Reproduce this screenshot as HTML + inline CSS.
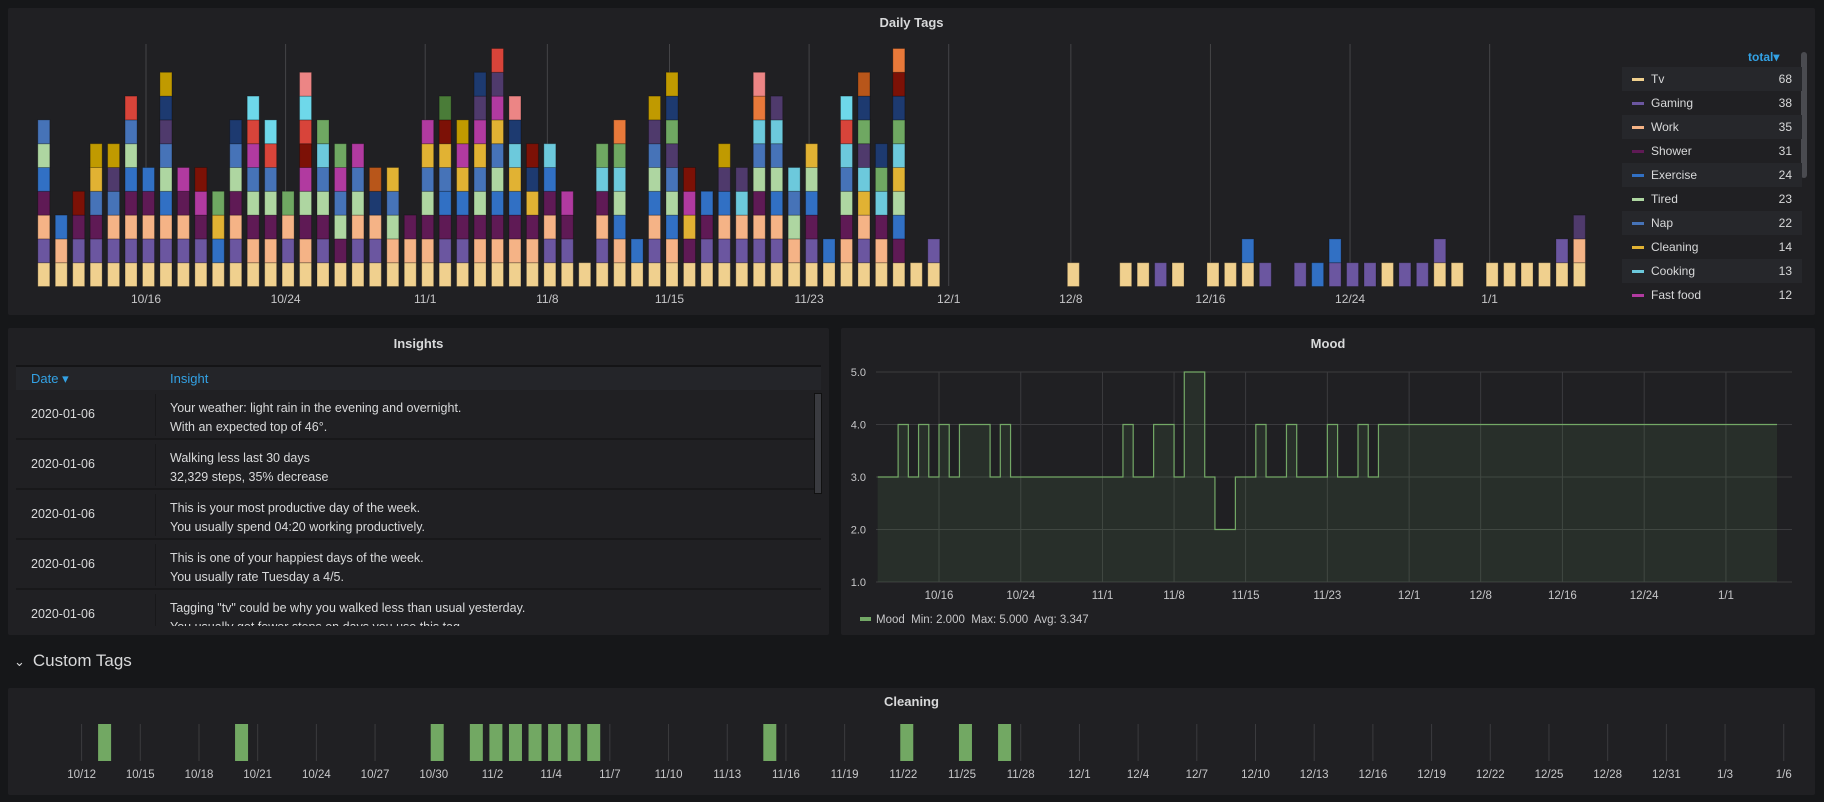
<!DOCTYPE html>
<html><head><meta charset="utf-8">
<style>
body{margin:0;width:1824px;height:802px;background:#161719;font-family:"Liberation Sans",sans-serif;overflow:hidden;position:relative;color:#d8d9da}
.panel{position:absolute;background:#202023;border-radius:2px}
.ptitle{position:absolute;left:0;right:0;text-align:center;font-size:13px;font-weight:bold;color:#d8d9da}
#charts{position:absolute;left:0;top:0}
.tbl{position:absolute;left:8px;top:37px;width:805px;height:261px;overflow:hidden}
.hdr{height:23px;background:#242529;border-top:2px solid #141416;font-size:13px;color:#33a2e5;position:relative}
.row{position:relative;height:48px;border-bottom:2px solid #18181a;font-size:12.5px}
.row .d{position:absolute;left:15px;top:0;line-height:48px}
.row .dv{position:absolute;left:139px;top:4px;bottom:2px;border-left:1px solid #18181a}
.row .t{position:absolute;left:154px;top:9px;line-height:19px}
.lg{position:absolute;left:1614px;width:180px;height:24px;font-size:12px;line-height:24px}
</style></head><body>
<div class="panel" style="left:8px;top:8px;width:1807px;height:307px">
  <div class="ptitle" style="top:7px">Daily Tags</div>
  <div style="position:absolute;left:1740px;top:42px;font-size:12px;font-weight:bold;color:#33a2e5">total▾</div>
  <div style="position:absolute;left:1793px;top:44px;width:6px;height:126px;background:#4a4b50;border-radius:3px"></div>
  <div id="legend"></div>
</div>
<div class="panel" style="left:8px;top:328px;width:821px;height:307px">
  <div class="ptitle" style="top:8px">Insights</div>
  <div class="tbl">
    <div class="hdr">
      <span style="position:absolute;left:15px;top:4px">Date ▾</span>
      <span style="position:absolute;left:154px;top:4px">Insight</span>
    </div>
    <div class="row"><span class="d">2020-01-06</span><span class="dv"></span><div class="t">Your weather: light rain in the evening and overnight.<br>With an expected top of 46°.</div></div>
    <div class="row"><span class="d">2020-01-06</span><span class="dv"></span><div class="t">Walking less last 30 days<br>32,329 steps, 35% decrease</div></div>
    <div class="row"><span class="d">2020-01-06</span><span class="dv"></span><div class="t">This is your most productive day of the week.<br>You usually spend 04:20 working productively.</div></div>
    <div class="row"><span class="d">2020-01-06</span><span class="dv"></span><div class="t">This is one of your happiest days of the week.<br>You usually rate Tuesday a 4/5.</div></div>
    <div class="row"><span class="d">2020-01-06</span><span class="dv"></span><div class="t">Tagging "tv" could be why you walked less than usual yesterday.<br>You usually get fewer steps on days you use this tag.</div></div>
  </div>
  <div style="position:absolute;left:806px;top:65px;width:6px;height:99px;background:#3a3b40;border:1px solid #111"></div>
</div>
<div class="panel" style="left:841px;top:328px;width:974px;height:307px">
  <div class="ptitle" style="top:8px">Mood</div>
</div>
<div style="position:absolute;left:14px;top:651px;font-size:17px;color:#d8d9da"><span style="font-size:13px;margin-right:8px">⌄</span>Custom Tags</div>
<div class="panel" style="left:8px;top:688px;width:1807px;height:107px">
  <div class="ptitle" style="top:6px">Cleaning</div>
</div>
<svg id="charts" width="1824" height="802" style="pointer-events:none"></svg>
<script>
// ---- Daily Tags data ----
const tagDays = ["TGWSEIN","TWE","TGSR","TGSNCO","TGWNPO","TGWSEIND","TGWSE","TGWEINPYO","TGWSF","TGSFR",
"TECV","TGWSINY","TWSINFDL","TWSINDL","TGWV","TWSIFRDLZ","TGSINKV","TSINFV","TGWINF","TGWYB",
"TWINC","TWS","TWSINCF","TGSENCRX","TGSECFO","TWSINCFPY","TWSEINCFPD","TWSECKYZ","TWSCYR","TGWSEK",
"TGSF","T","TGWSKV","TWEIKVQ","TE","TGWEINPO","TWEINPVYO","TSCFR","TGSE","TGWEPO",
"TGWKP","TGWSINKQZ","TGWEINKP","TWINK","TGSEIC","TE","TWSINKDL","TGWCKPVYB","TWSKVY","TSEICKVYRQ",
"T","TG","","","","","","","","T",
"","","T","T","G","T","","T","T","TE",
"G","","G","E","GE","G","G","T","G","G",
"TG","T","","T","T","T","T","TG","TWP"];
const stackOrder = "TGWSEINCKFPVYROBDLQZX";
const tagColors = {T:"#f0d08e",G:"#6b56a0",W:"#f5b386",S:"#5f1a55",E:"#3170c4",I:"#aed6a1",N:"#4673b8",C:"#e1b233",K:"#6cc9dc",F:"#b13aa0",P:"#4f3a6c",V:"#6fa862",Y:"#1d3a70",R:"#7c1106",O:"#c09a00",B:"#b8561a",D:"#d8443a",L:"#6ed8ea",Q:"#e8793a",Z:"#ec8585",X:"#4a7c38"};
const tagTickLabels = ["10/16","10/24","11/1","11/8","11/15","11/23","12/1","12/8","12/16","12/24","1/1"];
const tagTickDays = [6,14,22,29,36,44,52,59,67,75,83];
const legendNames = ["Tv","Gaming","Work","Shower","Exercise","Tired","Nap","Cleaning","Cooking","Fast food"];
const legendTotals = [68,38,35,31,24,23,22,14,13,12];
const legendCodes = ["T","G","W","S","E","I","N","C","K","F"];
// ---- Mood data ----
const moodValues = [3,3,4,3,4,3,4,3,4,4,4,3,4,3,3,3,3,3,3,3,3,3,3,3,4,3,3,4,4,3,5,5,3,2,2,3,3,4,3,3,4,3,3,3,4,3,3,4,3,
4,4,4,4,4,4,4,4,4,4,4,4,4,4,4,4,4,4,4,4,4,4,4,4,4,4,4,4,4,4,4,4,4,4,4,4,4,4,4];
const moodYTicks = [1,2,3,4,5];
const moodTickLabels = tagTickLabels;
const moodTickDays = tagTickDays;
// ---- Cleaning data ----
const cleaningDays = [0,7,17,19,20,21,22,23,24,25,34,41,44,46];
const cleanTickLabels = ["10/12","10/15","10/18","10/21","10/24","10/27","10/30","11/2","11/4","11/7","11/10","11/13","11/16","11/19","11/22","11/25","11/28","12/1","12/4","12/7","12/10","12/13","12/16","12/19","12/22","12/25","12/28","12/31","1/3","1/6"];

const NS="http://www.w3.org/2000/svg";
const svg=document.getElementById('charts');
function mk(tag,attrs,parent){const e=document.createElementNS(NS,tag);for(const k in attrs)e.setAttribute(k,attrs[k]);(parent||svg).appendChild(e);return e;}

// Daily tags axes
const tx = d => 146 + (d-6)*17.45;
const ty = v => 286.5 - v*23.8;
tagTickDays.forEach((d,i)=>{
  const l=mk('line',{x1:tx(d),x2:tx(d),y1:44,y2:286,stroke:'#444447','stroke-width':1});
  
  
  const t=mk('text',{x:tx(d),y:303,'text-anchor':'middle','font-size':12,fill:'#c7c7c9','font-family':'Liberation Sans'});
  t.textContent=tagTickLabels[i];
  
  
});
tagDays.forEach((s,d)=>{
  const arr=s.split('').sort((a,b)=>stackOrder.indexOf(a)-stackOrder.indexOf(b));
  arr.forEach((c,j)=>{
    const r=mk('rect',{x:tx(d)-3.5,y:ty(j+1),width:12,height:23.8,fill:tagColors[c],stroke:'rgba(0,0,0,0.25)','stroke-width':1});
    
    
  });
});
// legend
const lg=document.getElementById('legend');
legendNames.forEach((n,i)=>{
  const row=document.createElement('div');
  row.className='lg';
  row.style.top=(59+i*24)+'px';
  row.style.background=(i%2==0)?'#26272b':'transparent';
  
  
  row.innerHTML='<span style="position:absolute;left:10px;top:11px;width:12px;height:3px;background:'+tagColors[legendCodes[i]]+'"></span><span style="position:absolute;left:29px">'+n+'</span><span style="position:absolute;right:10px">'+legendTotals[i]+'</span>';
  lg.appendChild(row);
});

// Mood chart
const mx = d => 939 + (d-6)*10.22;
const my = v => 582 - (v-1)*52.5;
moodYTicks.forEach(v=>{
  const l=mk('line',{x1:876,x2:1792,y1:my(v),y2:my(v),stroke:'#3b3b3e'});
  
  
  const t=mk('text',{x:866,y:my(v)+4,'text-anchor':'end','font-size':11,fill:'#c7c7c9','font-family':'Liberation Sans'});
  t.textContent=v.toFixed(1);
  
  
});
moodTickDays.forEach((d,i)=>{
  const l=mk('line',{x1:mx(d),x2:mx(d),y1:372,y2:582,stroke:'#3b3b3e'});
  
  
  const t=mk('text',{x:mx(d),y:599,'text-anchor':'middle','font-size':11.5,fill:'#c7c7c9','font-family':'Liberation Sans'});
  t.textContent=moodTickLabels[i];
  
  
});
let lp='M'+mx(0)+','+my(moodValues[0]);
moodValues.forEach((v,d)=>{ if(d>0) lp+=' V'+my(v); lp+=' H'+mx(d+1); });
const area=mk('path',{d:lp+' V'+my(1)+' H'+mx(0)+' Z',fill:'rgba(115,191,105,0.1)',stroke:'none'});


const line=mk('path',{d:lp,fill:'none',stroke:'#73a866','stroke-width':1.2});


const sw=mk('rect',{x:860,y:617,width:11,height:4,fill:'#73a866'});


const lt=mk('text',{x:876,y:623,'font-size':11.5,fill:'#c7c7c9','font-family':'Liberation Sans',style:'white-space:pre'});
lt.textContent='Mood  Min: 2.000  Max: 5.000  Avg: 3.347';



// Cleaning chart
const cx = d => 81.6 + d*19.565;
cleanTickLabels.forEach((s,i)=>{
  const l=mk('line',{x1:cx(i*3),x2:cx(i*3),y1:724,y2:761,stroke:'#3b3b3e'});
  
  
  const t=mk('text',{x:cx(i*3),y:778,'text-anchor':'middle','font-size':11.5,fill:'#c7c7c9','font-family':'Liberation Sans'});
  t.textContent=s;
  
  
});
cleaningDays.forEach(d=>{
  const r=mk('rect',{x:cx(d)+16.5,y:724,width:13,height:37,fill:'#72a863'});
  
  
});
</script>
</body></html>
